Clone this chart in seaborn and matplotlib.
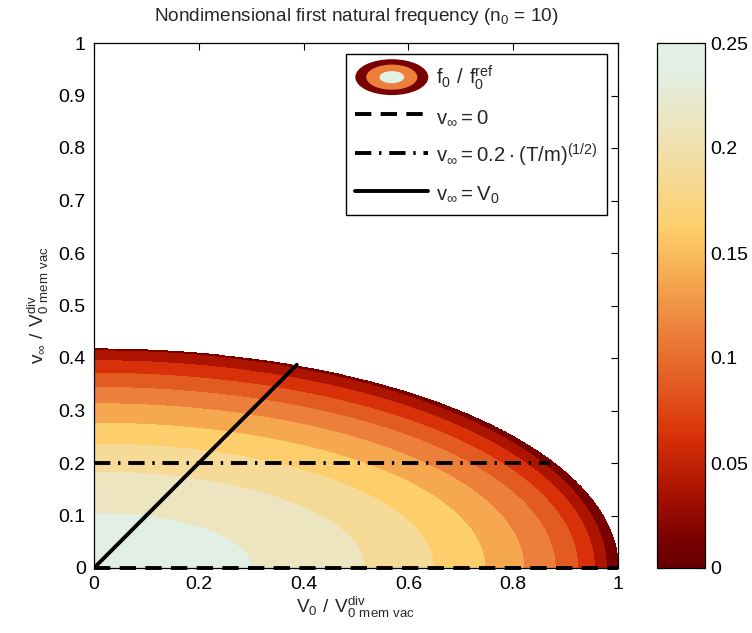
import numpy as np
import matplotlib
matplotlib.use("Agg")
import matplotlib.pyplot as plt
import seaborn as sns
from matplotlib.colors import LinearSegmentedColormap, Normalize
from matplotlib.cm import ScalarMappable
from matplotlib.patches import Ellipse, Patch
from matplotlib.lines import Line2D

# ---------------- data ----------------
levels = [0.0, 0.025, 0.05, 0.075, 0.1, 0.125, 0.15, 0.175, 0.2, 0.225, 0.25]
# where each contour level crosses the V0 axis (v_inf = 0) and the v_inf axis (V0 = 0)
cross_V0 = [1.000, 0.978, 0.955, 0.923, 0.880, 0.820, 0.746, 0.648, 0.515, 0.300]
cross_vinf = [0.417, 0.414, 0.395, 0.371, 0.344, 0.313, 0.276, 0.236, 0.183, 0.104]
band_colors = ["#780000", "#ac1400", "#d83008", "#e25c22", "#ec803a",
               "#f5a850", "#fdcf6c", "#f5da98", "#ece5c0", "#e2efe5"]
cbar_ticks = [0, 0.05, 0.1, 0.15, 0.2, 0.25]
cbar_ticklabels = ["0", "0.05", "0.1", "0.15", "0.2", "0.25"]
x_ticks = [0, 0.2, 0.4, 0.6, 0.8, 1]
x_ticklabels = ["0", "0.2", "0.4", "0.6", "0.8", "1"]
y_ticks = [0, 0.1, 0.2, 0.3, 0.4, 0.5, 0.6, 0.7, 0.8, 0.9, 1]
y_ticklabels = ["0", "0.1", "0.2", "0.3", "0.4", "0.5", "0.6", "0.7", "0.8", "0.9", "1"]

# reference lines
zero_V0 = [0.0, 1.0]
zero_v = [0.0, 0.0]
tm_V0 = [0.0, 0.87]
tm_v = [0.2, 0.2]
eq_V0 = [0.0, 0.387]
eq_v = [0.0, 0.387]

# ---------------- style ----------------
sns.set_style("white")
plt.rcParams["font.family"] = ["Liberation Sans", "DejaVu Sans"]
plt.rcParams["axes.edgecolor"] = "black"
plt.rcParams["axes.linewidth"] = 0.9

FS = 13.7
TFS = 14
LFS = 14.6
fig = plt.figure(figsize=(7.52, 6.33), dpi=100)
ax = fig.add_axes([94 / 752, 1 - 568 / 633, 524 / 752, 525 / 633])
cax = fig.add_axes([657 / 752, 1 - 568 / 633, 48 / 752, 525 / 633])

# ---------------- field built from the contour crossings ----------------
xg = np.linspace(0, 1, 900)
yg = np.linspace(0, 0.5, 500)
XX, YY = np.meshgrid(xg, yg)
g = [1 - np.sqrt((XX / a) ** 2 + (YY / b) ** 2) for a, b in zip(cross_V0, cross_vinf)]
F = 0.1 * g[0]
with np.errstate(divide="ignore", invalid="ignore"):
    for k in range(len(g)):
        m = g[k] >= 0
        if k < len(g) - 1:
            frac = g[k] / (g[k] - g[k + 1])
        else:
            frac = g[k]
        F = np.where(m, levels[k] + 0.025 * np.clip(frac, 0, 1), F)

ax.contourf(xg, yg, F, levels=levels, colors=band_colors, zorder=1)

# ---------------- lines ----------------
lw = 2.8
dash = (0, (4.2, 2.4))
dashdot = (0, (4.2, 2.0, 0.6, 2.0))
sns.lineplot(x=zero_V0, y=zero_v, ax=ax, color="black", lw=lw,
             linestyle=dash, legend=False, clip_on=False, zorder=5)
sns.lineplot(x=tm_V0, y=tm_v, ax=ax, color="black", lw=lw,
             linestyle=dashdot, legend=False, zorder=5)
sns.lineplot(x=eq_V0, y=eq_v, ax=ax, color="black", lw=lw,
             linestyle="-", legend=False, zorder=5)

ax.set_xlim(0, 1)
ax.set_ylim(0, 1)
ax.set_xticks(x_ticks)
ax.set_xticklabels(x_ticklabels)
ax.set_yticks(y_ticks)
ax.set_yticklabels(y_ticklabels)
ax.tick_params(direction="in", top=True, right=True, length=5, width=0.8,
               labelsize=TFS, colors="black", pad=6)
for s in ax.spines.values():
    s.set_visible(True)
    s.set_color("black")

ax.set_title(r"Nondimensional first natural frequency ($\mathregular{n_0}$ = 10)",
             fontsize=FS, pad=16)
ax.set_xlabel(r"$\mathregular{V_0\ /\ V^{div}_{0\ mem\ vac}}$", fontsize=FS, labelpad=1)
ax.set_ylabel(r"$\mathregular{v_\infty\ /\ V^{div}_{0\ mem\ vac}}$", fontsize=FS, labelpad=5)

# ---------------- legend ----------------
class ContourIconHandler:
    def legend_artist(self, legend, orig_handle, fontsize, handlebox):
        x0, y0 = handlebox.xdescent, handlebox.ydescent
        w, h = handlebox.width, handlebox.height
        cx, cy = -x0 + w / 2, -y0 + h / 2
        art = None
        for sc, col in [(1.0, band_colors[0]), (0.7, band_colors[4]), (0.34, band_colors[9])]:
            art = Ellipse((cx, cy), w * 1.0 * sc, h * 1.45 * sc, facecolor=col,
                          edgecolor="none", transform=handlebox.get_transform())
            handlebox.add_artist(art)
        return art

icon = Patch(facecolor=band_colors[0])
handles = [
    icon,
    Line2D([], [], color="black", lw=lw, linestyle=dash),
    Line2D([], [], color="black", lw=lw, linestyle=dashdot),
    Line2D([], [], color="black", lw=lw, linestyle="-"),
]
labels = [
    r"$\mathregular{f_0\ /\ f_0^{ref}}$",
    r"$\mathregular{v_\infty = 0}$",
    r"$\mathregular{v_\infty = 0.2 \cdot (T/m)^{(1/2)}}$",
    r"$\mathregular{v_\infty = V_0}$",
]
leg = ax.legend(handles, labels, handler_map={Patch: ContourIconHandler()},
                loc="upper right", bbox_to_anchor=(0.979, 0.979), borderaxespad=0,
                fontsize=LFS, frameon=True, fancybox=False, framealpha=1,
                edgecolor="black", handlelength=3.6, handleheight=1.5,
                labelspacing=0.62, borderpad=0.45, handletextpad=0.4)
leg.get_frame().set_linewidth(1.0)

# ---------------- colorbar ----------------
cnodes = [0.0] + [(levels[i] + levels[i + 1]) / 2 / 0.25 for i in range(10)] + [1.0]
ccols = ["#680000"] + band_colors + ["#e4f0e8"]
cmap = LinearSegmentedColormap.from_list("f0", list(zip(cnodes, ccols)), N=256)
sm = ScalarMappable(norm=Normalize(0, 0.25), cmap=cmap)
cb = fig.colorbar(sm, cax=cax, ticks=cbar_ticks)
cb.set_ticklabels(cbar_ticklabels)
cb.outline.set_edgecolor("black")
cb.outline.set_linewidth(0.9)
cax.tick_params(direction="in", left=True, right=True, length=4, width=0.8,
                labelsize=TFS, colors="black", pad=4)

fig.savefig("out.png", dpi=100)
